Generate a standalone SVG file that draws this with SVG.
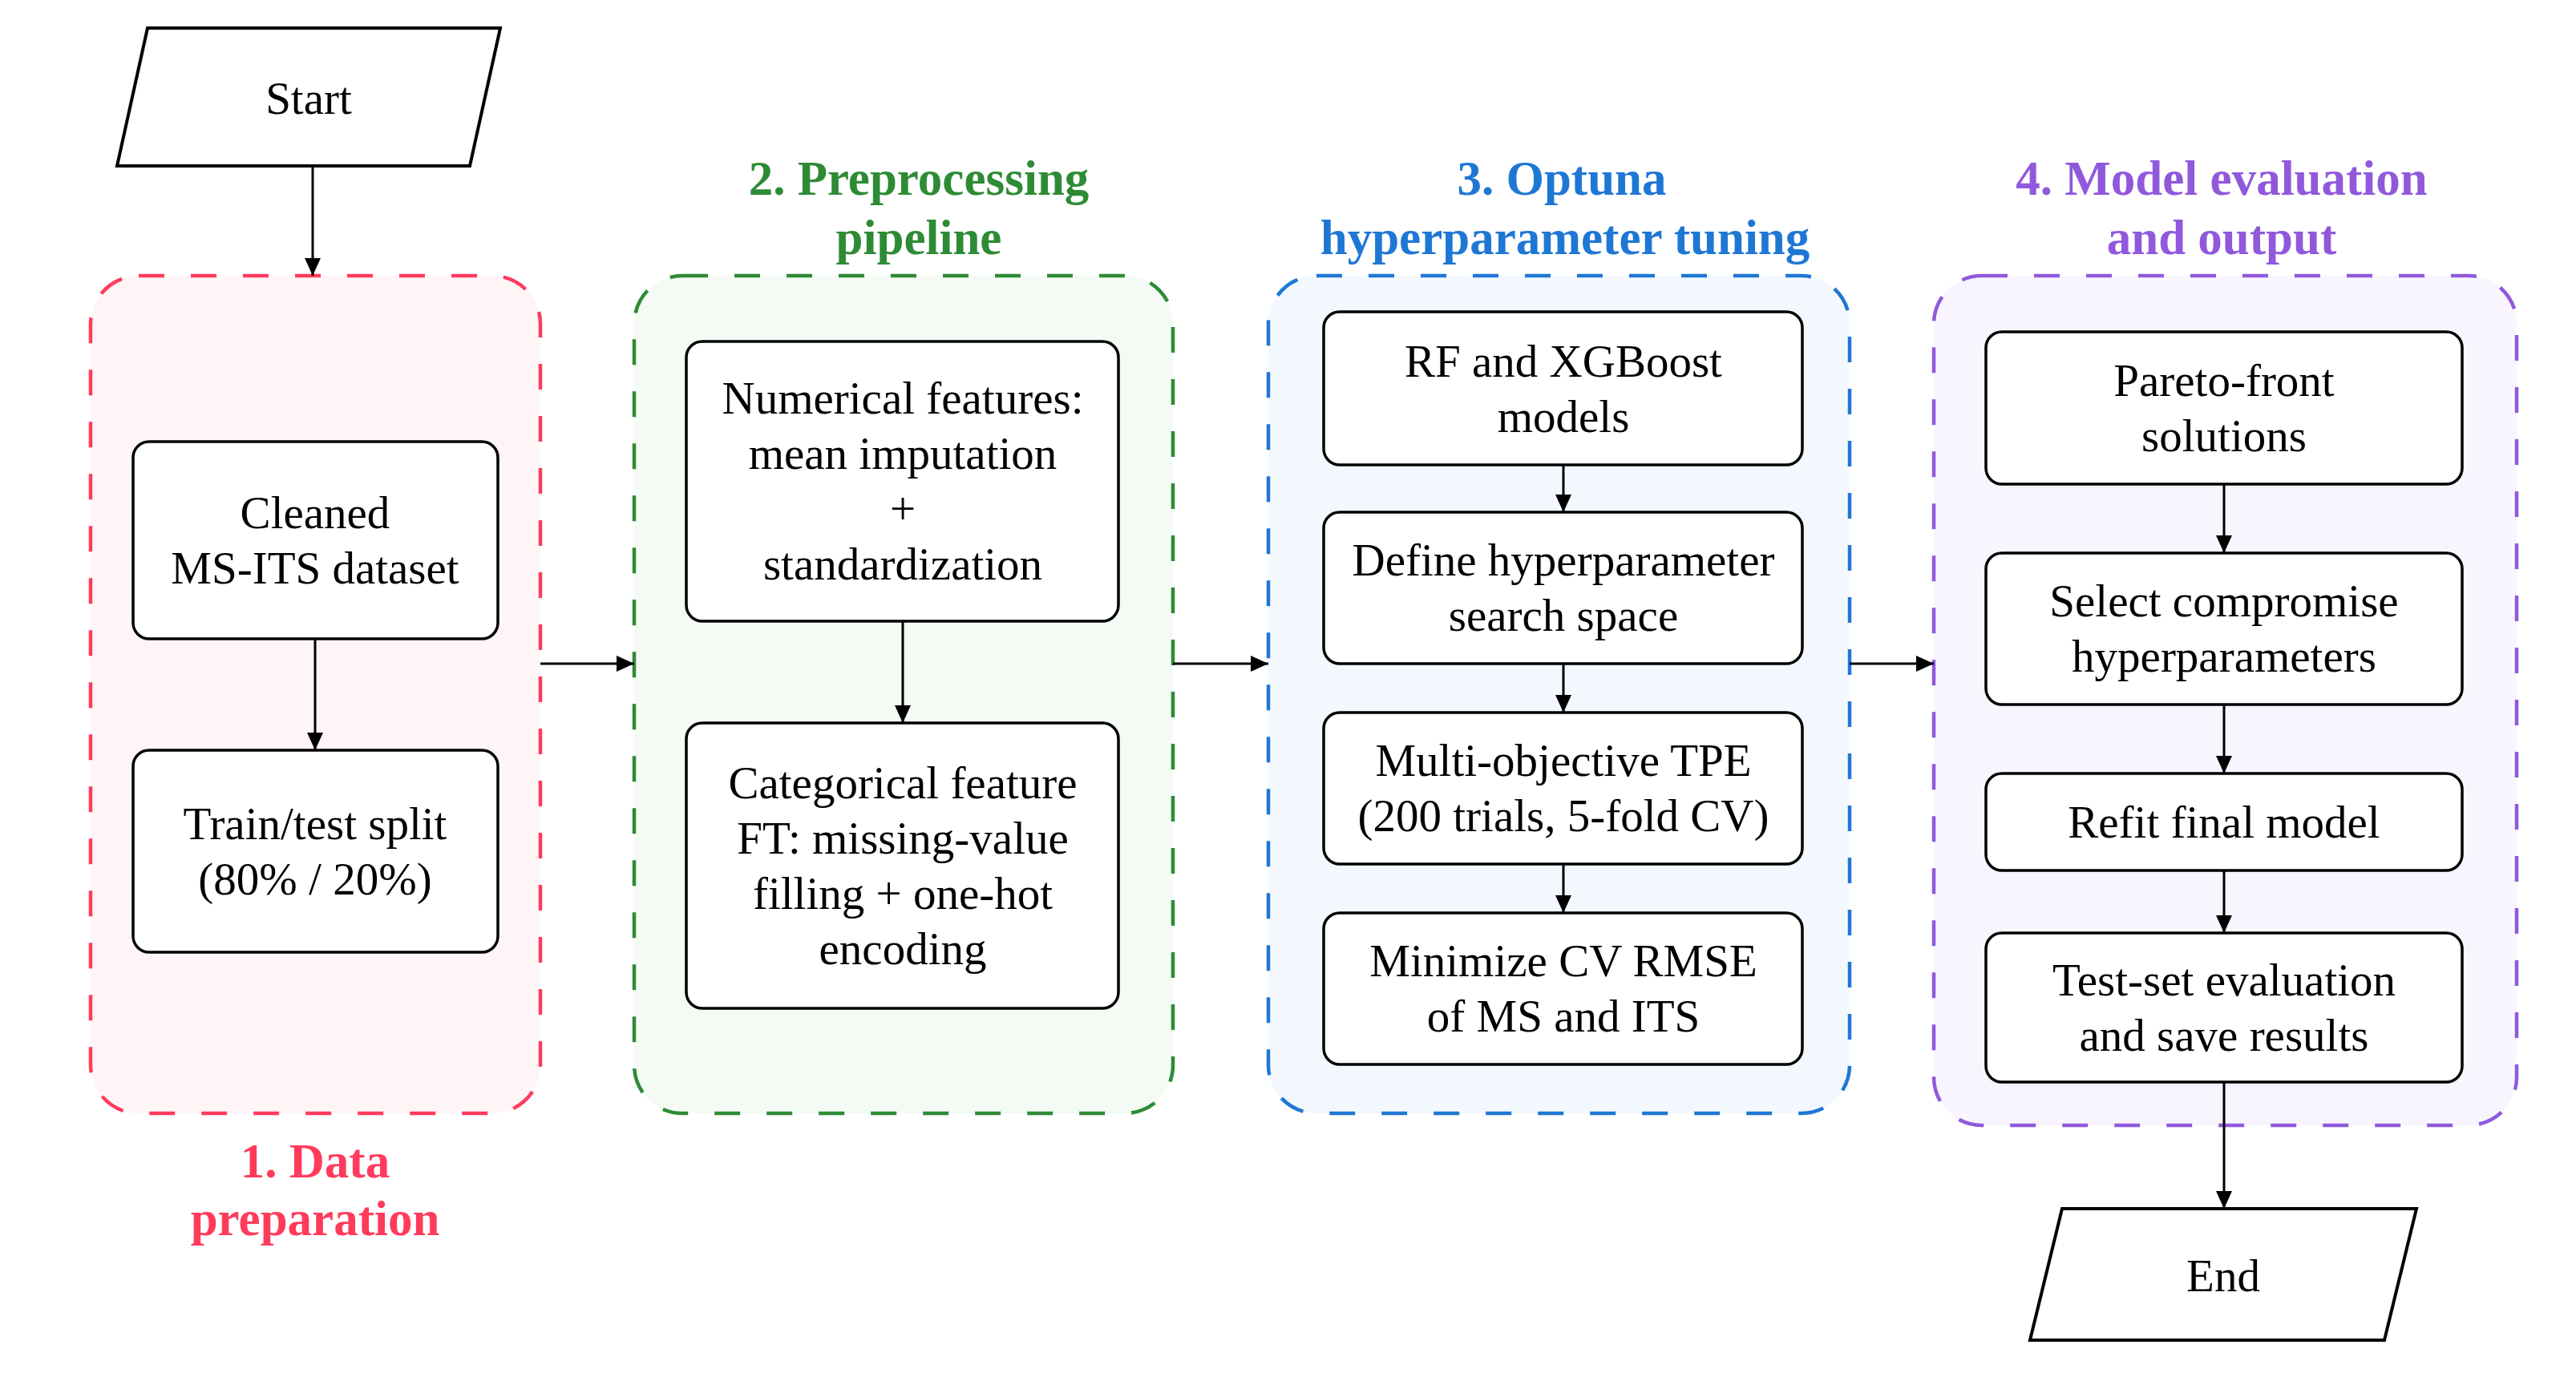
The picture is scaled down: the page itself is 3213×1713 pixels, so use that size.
<svg xmlns="http://www.w3.org/2000/svg" width="3213" height="1713" viewBox="0 0 3213 1713">
<style>
.node rect{fill:#ffffff;stroke:#000000;stroke-width:3.5}
.io polygon{fill:#ffffff;stroke:#000000;stroke-width:4}
text{font-family:"Liberation Serif","Times New Roman",serif}
.t{font-size:57px;fill:#000000;text-anchor:middle}
.title{font-size:61px;font-weight:bold;text-anchor:middle}
.grp{stroke-width:4.5;stroke-dasharray:32 33}
.conn line{stroke:#000000;stroke-width:3;marker-end:url(#ah)}
</style>
<defs>
<marker id="ah" markerUnits="userSpaceOnUse" markerWidth="22" markerHeight="20" refX="22" refY="10" orient="auto">
<path d="M0,0 L22,10 L0,20 z" fill="#000000"/>
</marker>
</defs>
<rect width="3213" height="1713" fill="#ffffff"/>

<g id="group-data-preparation">
<rect class="grp" x="113" y="344" width="561" height="1045" rx="60" fill="#fff5f7" stroke="#ff3b5c"/>
<text class="title" fill="#ff3b5c"><tspan x="393" y="1469">1. Data</tspan><tspan x="393" y="1541">preparation</tspan></text>
</g>
<g id="group-preprocessing">
<rect class="grp" x="791" y="344" width="672" height="1045" rx="60" fill="#f4faf4" stroke="#2e8b35"/>
<text class="title" fill="#2e8b35"><tspan x="1146" y="243">2. Preprocessing</tspan><tspan x="1146" y="317">pipeline</tspan></text>
</g>
<g id="group-optuna">
<rect class="grp" x="1582" y="344" width="725" height="1045" rx="60" fill="#f3f8ff" stroke="#1f77d4"/>
<text class="title" fill="#1f77d4"><tspan x="1948" y="243">3. Optuna</tspan><tspan x="1952" y="317">hyperparameter tuning</tspan></text>
</g>
<g id="group-evaluation">
<rect class="grp" x="2412" y="344" width="727" height="1060" rx="60" fill="#f8f5ff" stroke="#9059dc"/>
<text class="title" fill="#9059dc"><tspan x="2771" y="243">4. Model evaluation</tspan><tspan x="2771" y="317">and output</tspan></text>
</g>

<g id="start" class="io">
<polygon points="184,35 624,35 586,207 146,207"/>
<text class="t" x="385" y="142">Start</text>
</g>
<g id="end" class="io">
<polygon points="2572,1508 3014,1508 2974,1672 2532,1672"/>
<text class="t" x="2773" y="1611">End</text>
</g>

<g id="cleaned" class="node">
<rect x="166" y="551" width="455" height="246" rx="20"/>
<text class="t"><tspan x="393" y="659">Cleaned</tspan><tspan x="393" y="728">MS-ITS dataset</tspan></text>
</g>
<g id="split" class="node">
<rect x="166" y="936" width="455" height="252" rx="20"/>
<text class="t"><tspan x="393" y="1047">Train/test split</tspan><tspan x="393" y="1116">(80% / 20%)</tspan></text>
</g>

<g id="numerical" class="node">
<rect x="856" y="426" width="539" height="349" rx="20"/>
<text class="t"><tspan x="1126" y="516">Numerical features:</tspan><tspan x="1126" y="585">mean imputation</tspan><tspan x="1126" y="654">+</tspan><tspan x="1126" y="723">standardization</tspan></text>
</g>
<g id="categorical" class="node">
<rect x="856" y="902" width="539" height="356" rx="20"/>
<text class="t"><tspan x="1126" y="996">Categorical feature</tspan><tspan x="1126" y="1065">FT: missing-value</tspan><tspan x="1126" y="1134">filling + one-hot</tspan><tspan x="1126" y="1203">encoding</tspan></text>
</g>

<g id="models" class="node">
<rect x="1651" y="389" width="597" height="191" rx="20"/>
<text class="t"><tspan x="1950" y="470">RF and XGBoost</tspan><tspan x="1950" y="539">models</tspan></text>
</g>
<g id="searchspace" class="node">
<rect x="1651" y="639" width="597" height="189" rx="20"/>
<text class="t"><tspan x="1950" y="718">Define hyperparameter</tspan><tspan x="1950" y="787">search space</tspan></text>
</g>
<g id="tpe" class="node">
<rect x="1651" y="889" width="597" height="189" rx="20"/>
<text class="t"><tspan x="1950" y="968">Multi-objective TPE</tspan><tspan x="1950" y="1037">(200 trials, 5-fold CV)</tspan></text>
</g>
<g id="minimize" class="node">
<rect x="1651" y="1139" width="597" height="189" rx="20"/>
<text class="t"><tspan x="1950" y="1218">Minimize CV RMSE</tspan><tspan x="1950" y="1287">of MS and ITS</tspan></text>
</g>

<g id="pareto" class="node">
<rect x="2477" y="414" width="594" height="190" rx="20"/>
<text class="t"><tspan x="2774" y="494">Pareto-front</tspan><tspan x="2774" y="563">solutions</tspan></text>
</g>
<g id="select" class="node">
<rect x="2477" y="690" width="594" height="189" rx="20"/>
<text class="t"><tspan x="2774" y="769">Select compromise</tspan><tspan x="2774" y="838">hyperparameters</tspan></text>
</g>
<g id="refit" class="node">
<rect x="2477" y="965" width="594" height="121" rx="20"/>
<text class="t" x="2774" y="1045">Refit final model</text>
</g>
<g id="testset" class="node">
<rect x="2477" y="1164" width="594" height="186" rx="20"/>
<text class="t"><tspan x="2774" y="1242">Test-set evaluation</tspan><tspan x="2774" y="1311">and save results</tspan></text>
</g>

<g id="connectors" class="conn">
<line x1="390" y1="207" x2="390" y2="344"/>
<line x1="393" y1="797" x2="393" y2="936"/>
<line x1="674" y1="828" x2="791" y2="828"/>
<line x1="1126" y1="775" x2="1126" y2="902"/>
<line x1="1463" y1="828" x2="1582" y2="828"/>
<line x1="1950" y1="580" x2="1950" y2="639"/>
<line x1="1950" y1="828" x2="1950" y2="889"/>
<line x1="1950" y1="1078" x2="1950" y2="1139"/>
<line x1="2307" y1="828" x2="2412" y2="828"/>
<line x1="2774" y1="604" x2="2774" y2="690"/>
<line x1="2774" y1="879" x2="2774" y2="965"/>
<line x1="2774" y1="1086" x2="2774" y2="1164"/>
<line x1="2774" y1="1350" x2="2774" y2="1508"/>
</g>
</svg>
